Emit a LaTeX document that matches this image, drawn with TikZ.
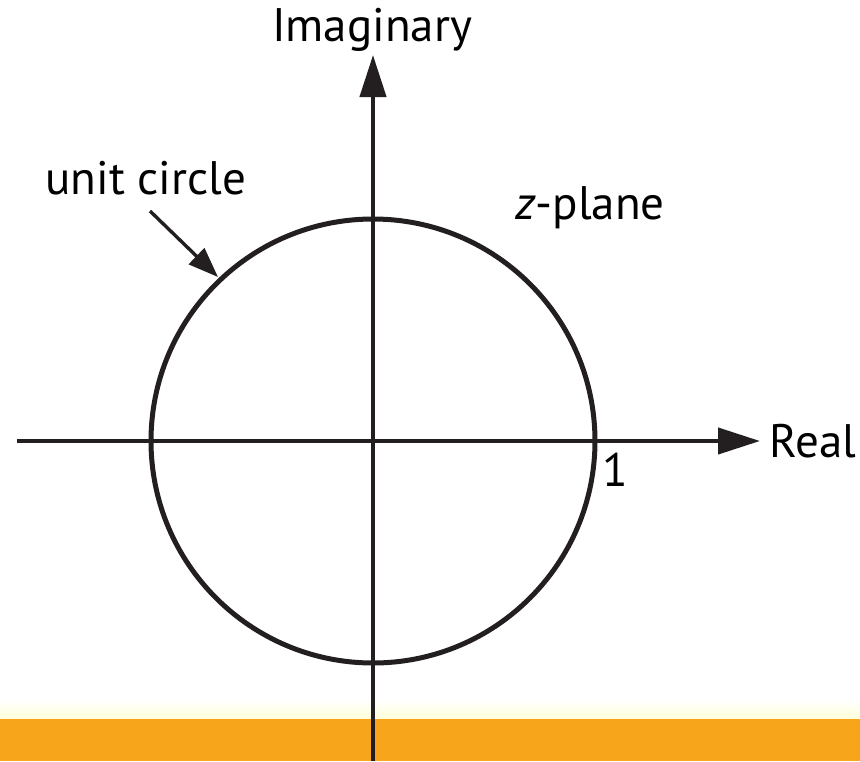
\documentclass[tikz,border=0pt]{standalone}
\usepackage{fontspec}
\setmainfont{PT Sans}
\usetikzlibrary{arrows.meta}
\definecolor{inkdark}{HTML}{231F20}
\definecolor{barorange}{HTML}{F7A51A}

\begin{document}
\begin{tikzpicture}[x=1pt, y=-1pt, font=\fontsize{47}{54}\selectfont,
	axisline/.style={line width=4.2pt, color=inkdark},
	bigtip/.style={-{Triangle[length=42pt, width=26pt]}}]
	\useasboundingbox (0,0) rectangle (860,761);
	% bottom band
	\shade [top color=white, bottom color=yellow!15] (0,700) rectangle (860,719);
	\fill [barorange] (0,719) rectangle (860,761);
	% axes and unit circle
	\draw [axisline, line width=5pt] (373,441) circle (222);
	\draw [axisline, bigtip] (17,441) -- (760,441);
	\draw [axisline, bigtip] (373,761) -- (373,55);
	\node (imag) at (372,30) {Imaginary};
	\node (real) at (813,441) {Real};
	\node (one) at (615,470) {1};
	\node (zplane) at (590,208) {\textit{z}-plane};
	\node (unit) at (146,178) {unit circle};
	\coordinate (ptr) at (150,211);
	\coordinate (oncircle) at (218,277);
	\draw [line width=3.4pt, color=inkdark, -{Triangle[length=30pt, width=22pt]}] (ptr) -- (oncircle);
\end{tikzpicture}
\end{document}
